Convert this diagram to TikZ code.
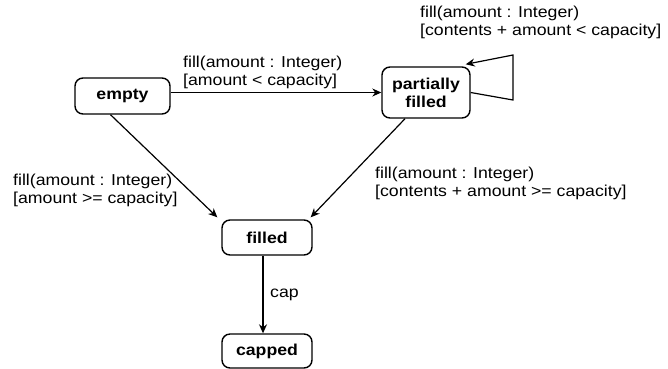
\documentclass[tikz,border=0pt]{standalone}
\usepackage{fontspec}
\setmainfont{Liberation Sans}[FakeStretch=1.12]
\usetikzlibrary{arrows.meta}
\begin{document}
\begin{tikzpicture}[x=1pt,y=-1pt,
  every node/.style={font=\fontsize{15.8}{18}\selectfont},
  state/.style={draw, line width=1.4pt, rounded corners=8pt,
    font=\fontsize{15.8}{18}\selectfont\bfseries, align=center, inner sep=0pt},
  trans/.style={line width=1.2pt, -{Stealth[length=9pt,width=8pt]}},
  lbl/.style={inner sep=0pt, align=left, anchor=north west}]
\useasboundingbox (0,0) rectangle (668,368);

% states
\node[state, minimum width=95pt, minimum height=36pt] (empty) at (122.5,96) {empty};
\node[state, minimum width=88pt, minimum height=51pt] (partial) at (426,92.5) {partially\\filled};
\node[state, minimum width=90pt, minimum height=35pt] (filled) at (267,237.5) {filled};
\node[state, minimum width=90pt, minimum height=34pt] (capped) at (267,351) {capped};

% transitions
\draw[trans] (empty.east |- partial) -- (partial.west);
\draw[trans] ([xshift=-12pt]empty.south) -- ([xshift=-4pt,yshift=2pt]filled.north west);
\draw[trans] ([xshift=-21pt]partial.south) -- ([xshift=-2pt,yshift=2pt]filled.north east);
\draw[trans] ([xshift=-4pt]filled.south) -- ([xshift=-4pt]capped.north);

% self transition on "partially filled"
\coordinate (loopA) at (513,100);
\coordinate (loopB) at (513,55);
\draw[trans] (partial.east) -- (loopA) -- (loopB) -- ([xshift=-5pt,yshift=2pt]partial.north east);

% transition labels
\node[lbl] (l1) at (183,55.5) {fill(amount : Integer)\\{}[amount < capacity]};
\node[lbl] (l2) at (420,5.5) {fill(amount : Integer)\\{}[contents + amount < capacity]};
\node[lbl] (l3) at (13,173.5) {fill(amount : Integer)\\{}[amount >= capacity]};
\node[lbl] (l4) at (375,166.5) {fill(amount : Integer)\\{}[contents + amount >= capacity]};
\node[inner sep=0pt, anchor=base west] (l5) at (270,297) {cap};
\end{tikzpicture}
\end{document}
